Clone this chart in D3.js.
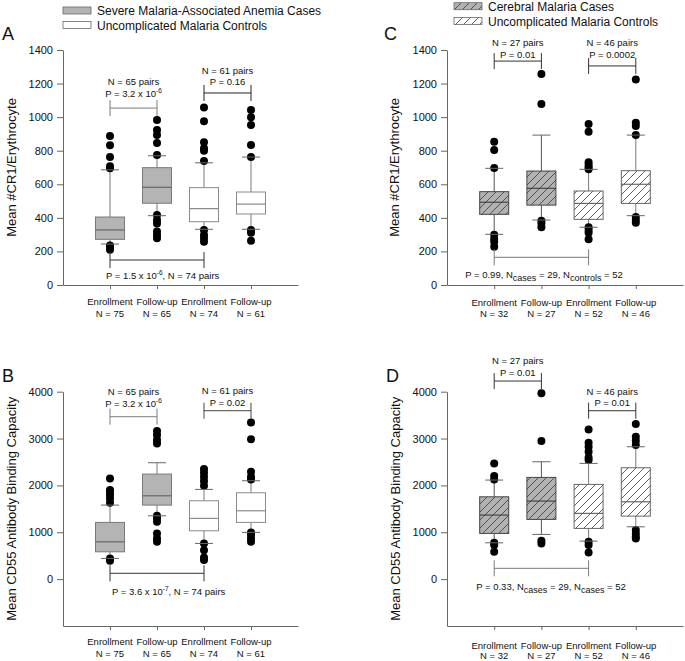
<!DOCTYPE html>
<html><head><meta charset="utf-8">
<script src="https://cdn.jsdelivr.net/npm/d3@7"></script>
<style>body{margin:0;background:#fff} svg{display:block;font-family:"Liberation Sans",Arial,Helvetica,sans-serif}</style>
</head><body><svg id="c" width="685" height="661"></svg>
<script>
// ---------- data ----------
const categories = ["Enrollment", "Follow-up", "Enrollment", "Follow-up"];
const nLabelsAB = ["N = 75", "N = 65", "N = 74", "N = 61"];
const nLabelsCD = ["N = 32", "N = 27", "N = 52", "N = 46"];
const ticksCR1 = [0, 200, 400, 600, 800, 1000, 1200, 1400];
const ticksCD55 = [0, 1000, 2000, 3000, 4000];
const legendAB = ["Severe Malaria-Associated Anemia Cases", "Uncomplicated Malaria Controls"];
const legendCD = ["Cerebral Malaria Cases", "Uncomplicated Malaria Controls"];
const yLabelCR1 = "Mean #CR1/Erythrocyte";
const yLabelCD55 = "Mean CD55 Antibody Binding Capacity";

// Panel A (CR1, SMA)
const q1A = [272, 487, 377, 423];
const medA = [328, 582, 455, 482];
const q3A = [405, 699, 580, 554];
const loA = [244, 413, 332, 332];
const hiA = [686, 770, 728, 762];
const outA = [[887, 833, 763, 707, 695, 236, 222, 210],
              [983, 923, 893, 846, 774, 417, 387, 367, 318, 298, 278],
              [1058, 975, 850, 815, 800, 738, 328, 298, 278, 258],
              [1042, 1000, 953, 834, 762, 328, 312, 264]];
// Panel B (CD55, SMA)
const q1B = [583, 1580, 1032, 1211];
const medB = [797, 1779, 1296, 1459];
const q3B = [1211, 2242, 1672, 1843];
const loB = [442, 1352, 762, 997];
const hiB = [1580, 2484, 1915, 2100];
const outB = [[2150, 1900, 1864, 1794, 1723, 1630, 442, 391],
              [3160, 3075, 2968, 2897, 1352, 1296, 1224, 976, 869, 797],
              [2349, 2270, 2185, 2093, 1993, 762, 619, 463, 406],
              [3345, 2983, 2292, 2185, 2129, 997, 940, 869, 797]];
// Panel C (CR1, CM)
const q1C = [421, 476, 391, 486];
const medC = [493, 576, 486, 600];
const q3C = [556, 679, 560, 681];
const loC = [302, 387, 344, 413];
const hiC = [695, 893, 689, 893];
const outC = [[853, 805, 697, 300, 275, 258, 228],
              [1257, 1078, 383, 367, 344],
              [959, 913, 731, 715, 701, 690, 344, 328, 312, 272],
              [1225, 967, 947, 893, 405, 387, 371]];
// Panel D (CD55, CM)
const q1D = [976, 1275, 1083, 1345];
const medD = [1367, 1666, 1403, 1651];
const q3D = [1757, 2171, 2022, 2377];
const loD = [775, 954, 811, 1117];
const hiD = [2114, 2505, 2470, 2825];
const outD = [[2470, 2199, 2129, 775, 726, 583],
              [3965, 2947, 818, 762],
              [3196, 2911, 2825, 2718, 2598, 2541, 797, 726, 569],
              [3310, 3039, 2954, 2861, 1046, 976, 904, 869]];

// bracket annotations
const bracketsA = [
  {a: 0, b: 1, v: 1054, c: "#7a7a7a", lines: [[["N = 65 pairs"]], [["P = 3.2 x 10"], ["-6", "sup"]]], dys: [-23.5, -11.5]},
  {a: 2, b: 3, v: 1144, c: "#222", lines: [[["N = 61 pairs"]], [["P = 0.16"]]], dys: [-18.5, -7.5]}
];
const bottomA = {a: 0, b: 2, v: 149, c: "#333", text: [["P = 1.5 x 10"], ["-6", "sup"], [", N = 74 pairs"]], dx: -4, dy: 19.5};
const bracketsB = [
  {a: 0, b: 1, v: 3466, c: "#7a7a7a", lines: [[["N = 65 pairs"]], [["P = 3.2 x 10"], ["-6", "sup"]]], dys: [-21.5, -9.9]},
  {a: 2, b: 3, v: 3594, c: "#444", lines: [[["N = 61 pairs"]], [["P = 0.02"]]], dys: [-16.5, -4.5]}
];
const bottomB = {a: 0, b: 2, v: 125, c: "#333", text: [["P = 3.6 x 10"], ["-7", "sup"], [", N = 74 pairs"]], dx: 2, dy: 21.9};
const bracketsC = [
  {a: 0, b: 1, v: 1334, c: "#333", lines: [[["N = 27 pairs"]], [["P = 0.01"]]], dys: [-14.8, -3.5]},
  {a: 2, b: 3, v: 1305, c: "#333", lines: [[["N = 46 pairs"]], [["P = 0.0002"]]], dys: [-19.8, -7.5]}
];
const bottomC = {a: 0, b: 2, v: 165, c: "#7a7a7a", text: [["P = 0.99, N"], ["cases", "sub"], [" = 29, N"], ["controls", "sub"], [" = 52"]], dx: -29, dy: 20.5};
const bracketsD = [
  {a: 0, b: 1, v: 4228, c: "#333", lines: [[["N = 27 pairs"]], [["P = 0.01"]]], dys: [-16.8, -5.2]},
  {a: 2, b: 3, v: 3594, c: "#333", lines: [[["N = 46 pairs"]], [["P = 0.01"]]], dys: [-16.2, -4.5]}
];
const bottomD = {a: 0, b: 2, v: 231, c: "#7a7a7a", text: [["P = 0.33, N"], ["cases", "sub"], [" = 29, N"], ["cases", "sub"], [" = 52"]], dx: -18, dy: 21.9};

// ---------- drawing ----------
const svg = d3.select("#c");
const defs = svg.append("defs");
function hatch(id, bg) {
  const p = defs.append("pattern").attr("id", id).attr("patternUnits", "userSpaceOnUse")
    .attr("width", 8).attr("height", 8);
  p.append("rect").attr("width", 8).attr("height", 8).attr("fill", bg);
  p.append("path").attr("d", "M-2,2 L2,-2 M0,8 L8,0 M6,10 L10,6")
    .attr("stroke", "#3a3a3a").attr("stroke-width", 0.8);
}
hatch("hg", "#b2b2b2");
hatch("hw", "#ffffff");

const styles = {
  gray:  {fill: "#b4b4b4", stroke: "#7a7a7a", med: "#666"},
  white: {fill: "#ffffff", stroke: "#8a8a8a", med: "#8a8a8a"},
  hg:    {fill: "url(#hg)", stroke: "#444", med: "#444"},
  hw:    {fill: "url(#hw)", stroke: "#666", med: "#666"}
};
const TXT = "#111";

function addSegs(sel, segs) {
  let shift = 0;
  segs.forEach(s => {
    const t = sel.append("tspan").text(s[0]);
    const want = s[1] === "sup" ? -4 : s[1] === "sub" ? 3 : 0;
    if (s[1] === "sup") t.attr("font-size", 6.5);
    else if (s[1] === "sub") t.attr("font-size", 9);
    t.attr("dy", want - shift);
    shift = want;
  });
}

function panel(cfg) {
  const g = svg.append("g");
  const x = d3.scalePoint().domain([0, 1, 2, 3]).range([cfg.x0, cfg.x1]).padding(1);
  const y = d3.scaleLinear().domain(cfg.domain).range([cfg.yBot, cfg.yTop]);

  // y axis
  const ya = g.append("g").attr("transform", `translate(${cfg.x0},0)`)
    .call(d3.axisLeft(y).tickValues(cfg.ticks).tickFormat(d3.format("d")).tickSize(6).tickPadding(4).tickSizeOuter(0));
  ya.select(".domain").attr("stroke", "#666");
  ya.selectAll(".tick line").attr("stroke", "#666");
  ya.selectAll(".tick text").attr("font-size", 11).attr("fill", TXT).attr("font-family", null);

  // x axis
  const xa = g.append("g").attr("transform", `translate(0,${cfg.yBot})`)
    .call(d3.axisBottom(x).tickSize(4).tickSizeOuter(0).tickFormat(""));
  xa.select(".domain").attr("stroke", "#666");
  xa.selectAll(".tick line").attr("stroke", "#666");

  // category labels
  categories.forEach((c, i) => {
    g.append("text").attr("x", x(i)).attr("y", cfg.yBot + cfg.catDy[0]).attr("text-anchor", "middle")
      .attr("font-size", 9.5).attr("fill", TXT).text(c);
    g.append("text").attr("x", x(i)).attr("y", cfg.yBot + cfg.catDy[1]).attr("text-anchor", "middle")
      .attr("font-size", 9.5).attr("fill", TXT).text(cfg.nLabels[i]);
  });

  // y label
  g.append("text").attr("transform", `translate(${cfg.ylx},${(cfg.yTop + cfg.yBot) / 2}) rotate(-90)`)
    .attr("text-anchor", "middle").attr("dy", "0.35em").attr("font-size", 13).attr("fill", TXT).text(cfg.ylabel);

  // panel letter
  g.append("text").attr("x", cfg.letterX).attr("y", cfg.letterY).attr("font-size", 18).attr("fill", TXT).text(cfg.letter);

  // boxes
  const bw = 29, cw = 9;
  cfg.q1.forEach((q1, i) => {
    const st = styles[cfg.styles[i]];
    const cx = x(i);
    const wc = st.stroke === "#444" ? "#555" : "#7a7a7a";
    g.append("line").attr("x1", cx).attr("x2", cx).attr("y1", y(cfg.lo[i])).attr("y2", y(q1)).attr("stroke", wc);
    g.append("line").attr("x1", cx).attr("x2", cx).attr("y1", y(cfg.q3[i])).attr("y2", y(cfg.hi[i])).attr("stroke", wc);
    g.append("rect").attr("x", cx - bw / 2).attr("width", bw).attr("y", y(cfg.q3[i]))
      .attr("height", y(q1) - y(cfg.q3[i])).attr("fill", st.fill).attr("stroke", st.stroke).attr("stroke-width", 1);
    g.append("line").attr("x1", cx - bw / 2).attr("x2", cx + bw / 2).attr("y1", y(cfg.med[i])).attr("y2", y(cfg.med[i]))
      .attr("stroke", st.med).attr("stroke-width", 1.2);
    g.selectAll(null).data(cfg.out[i]).enter().append("circle")
      .attr("cx", cx).attr("cy", d => y(d)).attr("r", 4).attr("fill", "#000");
    [cfg.lo[i], cfg.hi[i]].forEach(v => {
      g.append("line").attr("x1", cx - cw).attr("x2", cx + cw).attr("y1", y(v)).attr("y2", y(v)).attr("stroke", "#666");
    });
  });

  // brackets
  const drawBracket = (b) => {
    const xa1 = x(b.a), xb1 = x(b.b), yy = y(b.v);
    g.append("path").attr("d", `M${xa1},${yy - 8}V${yy + 8}M${xa1},${yy}H${xb1}M${xb1},${yy - 8}V${yy + 8}`)
      .attr("fill", "none").attr("stroke", b.c).attr("stroke-width", 1);
    return {xa1, xb1, yy};
  };
  cfg.brackets.forEach(b => {
    const r = drawBracket(b);
    b.lines.forEach((ln, k) => {
      const t = g.append("text").attr("x", (r.xa1 + r.xb1) / 2).attr("y", r.yy + b.dys[k])
        .attr("text-anchor", "middle").attr("font-size", 9.5).attr("fill", TXT);
      addSegs(t, ln);
    });
  });
  const r = drawBracket(cfg.bottom);
  const t = g.append("text").attr("x", r.xa1 + cfg.bottom.dx).attr("y", r.yy + cfg.bottom.dy)
    .attr("font-size", 9.5).attr("fill", TXT);
  addSegs(t, cfg.bottom.text);

  // legend
  if (cfg.legend) {
    cfg.legend.labels.forEach((lab, k) => {
      const ly = cfg.legend.y[k];
      g.append("rect").attr("x", cfg.legend.x).attr("y", ly).attr("width", 28).attr("height", 7)
        .attr("fill", styles[cfg.legend.st[k]].fill).attr("stroke", "#666").attr("stroke-width", 0.8);
      g.append("text").attr("x", cfg.legend.x + 34).attr("y", ly + 8).attr("font-size", 12).attr("fill", TXT).text(lab);
    });
  }
}

panel({letter: "A", letterX: 2, letterY: 40, x0: 63, x1: 298, yTop: 50, yBot: 285, domain: [0, 1400], ticks: ticksCR1,
  ylabel: yLabelCR1, ylx: 11, nLabels: nLabelsAB, catDy: [19.5, 31.5],
  q1: q1A, med: medA, q3: q3A, lo: loA, hi: hiA, out: outA, styles: ["gray", "gray", "white", "white"],
  brackets: bracketsA, bottom: bottomA,
  legend: {x: 63, y: [7, 21.5], labels: legendAB, st: ["gray", "white"]}});
panel({letter: "B", letterX: 2, letterY: 382, x0: 63, x1: 298, yTop: 391.7, yBot: 626, domain: [-1000, 4000], ticks: ticksCD55,
  ylabel: yLabelCD55, ylx: 11, nLabels: nLabelsAB, catDy: [19, 31],
  q1: q1B, med: medB, q3: q3B, lo: loB, hi: hiB, out: outB, styles: ["gray", "gray", "white", "white"],
  brackets: bracketsB, bottom: bottomB});
panel({letter: "C", letterX: 384, letterY: 40, x0: 447, x1: 683, yTop: 50, yBot: 285, domain: [0, 1400], ticks: ticksCR1,
  ylabel: yLabelCR1, ylx: 394.5, nLabels: nLabelsCD, catDy: [21, 31.5],
  q1: q1C, med: medC, q3: q3C, lo: loC, hi: hiC, out: outC, styles: ["hg", "hg", "hw", "hw"],
  brackets: bracketsC, bottom: bottomC,
  legend: {x: 454, y: [2.7, 17.5], labels: legendCD, st: ["hg", "hw"]}});
panel({letter: "D", letterX: 386, letterY: 382, x0: 447, x1: 683, yTop: 391.7, yBot: 626, domain: [-1000, 4000], ticks: ticksCD55,
  ylabel: yLabelCD55, ylx: 395, nLabels: nLabelsCD, catDy: [22.5, 33],
  q1: q1D, med: medD, q3: q3D, lo: loD, hi: hiD, out: outD, styles: ["hg", "hg", "hw", "hw"],
  brackets: bracketsD, bottom: bottomD});
</script></body></html>
